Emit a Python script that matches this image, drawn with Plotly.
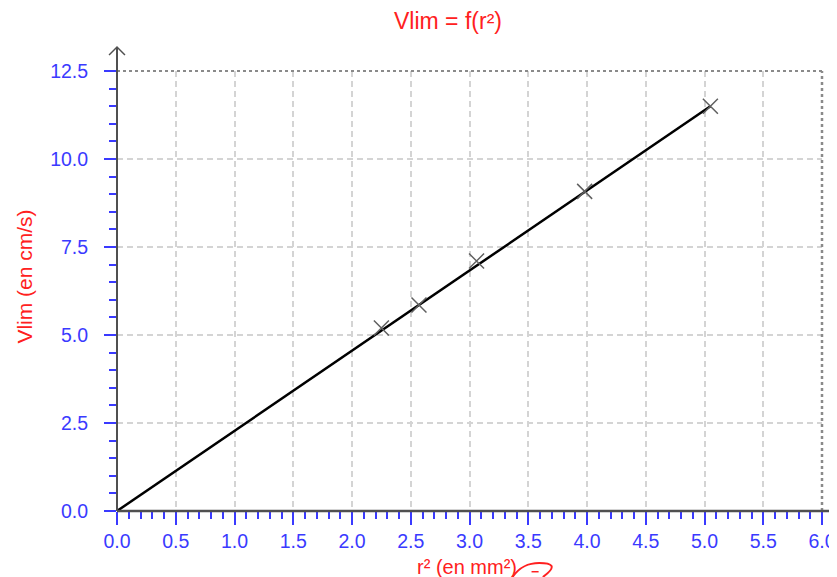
import plotly.graph_objects as go

# Measured data
r2_values = [2.25, 2.57, 3.06, 3.98, 5.05]
vlim_values = [5.2, 5.85, 7.1, 9.08, 11.5]

# Model line (proportional fit), endpoints
model_r2 = [0.0, 5.05]
model_vlim = [0.0, 11.5]

title_text = "Vlim = f(r²)"
x_title = "r² (en mm²)"
y_title = "Vlim (en cm/s)"

FONT = "Liberation Sans"
BLUE = "#3a3aff"
RED = "#ff2020"
AXIS = "#505050"

fig = go.Figure()

fig.add_trace(go.Scatter(
    x=model_r2, y=model_vlim, mode="lines",
    line=dict(color="black", width=2.5), hoverinfo="skip", showlegend=False,
    cliponaxis=False,
))
fig.add_trace(go.Scatter(
    x=r2_values, y=vlim_values, mode="markers",
    marker=dict(symbol="x-thin", size=15, line=dict(color="#606060", width=1.5)),
    showlegend=False, cliponaxis=False,
))

axis_common = dict(
    showgrid=True, gridcolor="#d4d4d4", gridwidth=1.5, griddash="6px,4px",
    zeroline=False, showline=False, automargin=False,
    ticks="outside", tickcolor=BLUE, tickwidth=2,
    tickfont=dict(family=FONT, size=19.5, color=BLUE),
    tickformat=".1f", tick0=0,
)

# page body has an 8px margin, so the figure is sized/offset to compensate
fig.update_layout(
    width=829, height=569,
    margin=dict(l=109, r=15, t=63, b=66),
    paper_bgcolor="white", plot_bgcolor="white",
    xaxis=dict(range=[0, 6], dtick=0.5, ticklen=13,
               minor=dict(dtick=0.1, ticklen=7, tickcolor=BLUE, tickwidth=2, ticks="outside", showgrid=False),
               **axis_common),
    yaxis=dict(range=[0, 12.5], dtick=2.5, ticklen=12, ticklabelstandoff=12,
               minor=dict(dtick=0.5, ticklen=7, tickcolor=BLUE, tickwidth=2, ticks="outside", showgrid=False),
               **axis_common),
)

annotations = [
    dict(text=title_text, xref="paper", yref="paper", x=0.4695, y=1.113,
         xanchor="center", yanchor="middle", showarrow=False,
         font=dict(family=FONT, size=23, color=RED)),
    dict(text=y_title, xref="paper", yref="paper", x=-0.131, y=0.532,
         xanchor="center", yanchor="middle", showarrow=False, textangle=-90,
         font=dict(family=FONT, size=21, color=RED)),
    dict(text=x_title, xref="paper", yref="paper", x=0.4965, y=-0.128,
         xanchor="center", yanchor="middle", showarrow=False,
         font=dict(family=FONT, size=20, color=RED)),
]
fig.update_layout(annotations=annotations)

shapes = []
# top and right dotted borders
shapes.append(dict(type="line", xref="paper", yref="paper", x0=0, x1=1, y0=1, y1=1,
                   line=dict(color="#8a8a8a", width=2, dash="dot")))
shapes.append(dict(type="line", xref="paper", yref="paper", x0=1, x1=1, y0=0, y1=1,
                   line=dict(color="#8a8a8a", width=2.5, dash="dot")))
# y axis with arrow
shapes.append(dict(type="line", xref="paper", yref="paper", x0=0, x1=0, y0=0, y1=1.0545,
                   line=dict(color=AXIS, width=2)))
shapes.append(dict(type="path", xref="paper", yref="paper",
                   path="M -0.0113 1.0364 L 0 1.0545 L 0.0113 1.0364",
                   line=dict(color=AXIS, width=1.5)))
# x axis with arrow
shapes.append(dict(type="line", xref="paper", yref="paper", x0=0, x1=1.03, y0=0, y1=0,
                   line=dict(color=AXIS, width=2.5)))
shapes.append(dict(type="path", xref="paper", yref="paper",
                   path="M 1.0125 0.0182 L 1.03 0 L 1.0125 -0.0182",
                   line=dict(color=AXIS, width=1.5)))
# red hand-drawn scribble near x title
shapes.append(dict(type="path", xref="paper", yref="paper",
                   path="M 0.561 -0.150 C 0.572 -0.125, 0.584 -0.118, 0.599 -0.118 "
                        "C 0.616 -0.118, 0.626 -0.125, 0.604 -0.150",
                   line=dict(color=RED, width=2)))
shapes.append(dict(type="path", xref="paper", yref="paper",
                   path="M 0.588 -0.138 L 0.598 -0.138",
                   line=dict(color=RED, width=1.5)))
fig.update_layout(shapes=shapes)

fig.write_html("out.html")
